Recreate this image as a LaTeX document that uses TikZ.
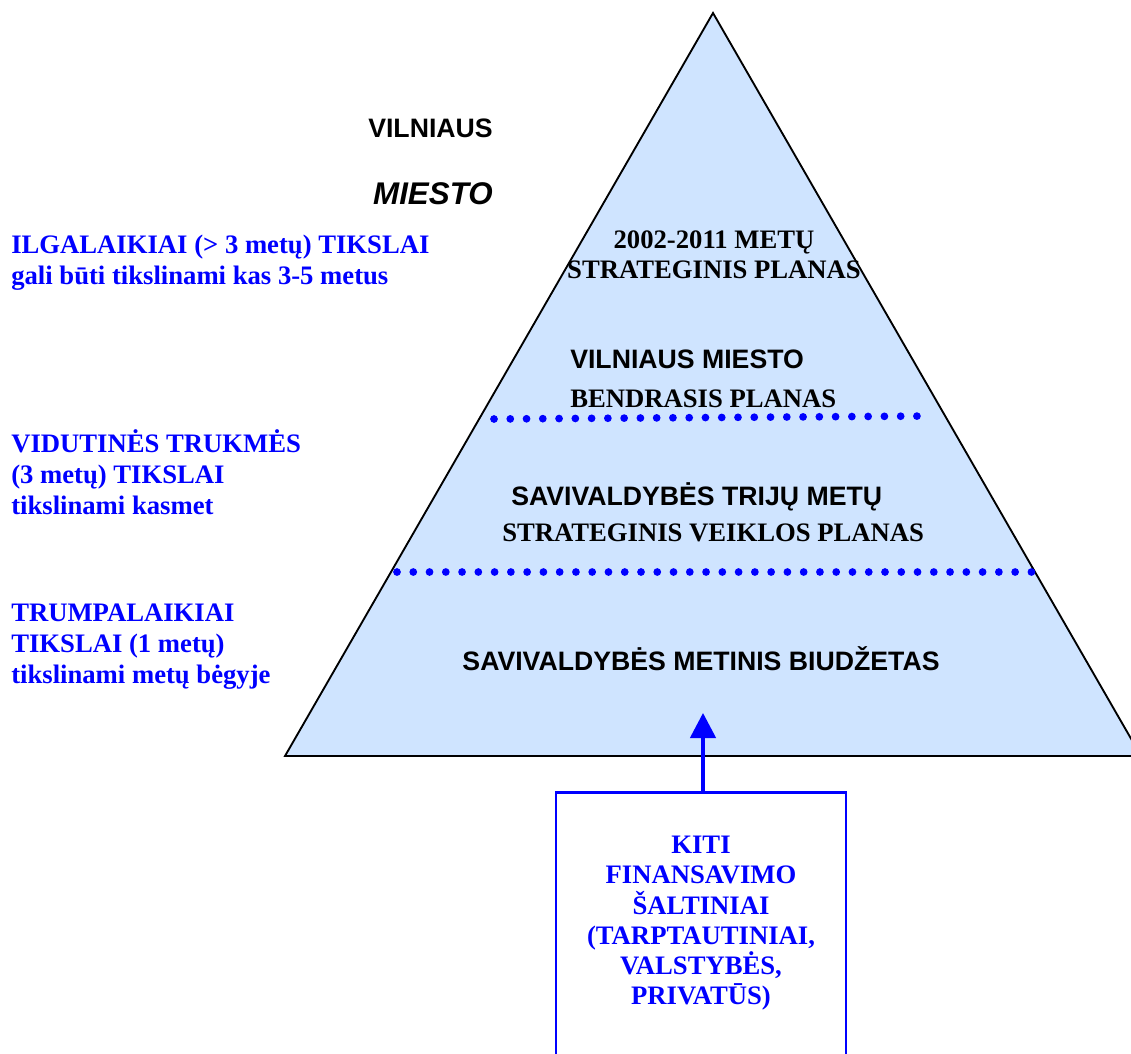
\documentclass[tikz,border=0pt]{standalone}
\usepackage{fontspec}
\setmainfont{Liberation Serif}
\newfontfamily\arialfont{Liberation Sans}
\usetikzlibrary{arrows.meta}
\definecolor{pyrfill}{RGB}{207,228,255}
\definecolor{goalblue}{RGB}{0,0,255}
\tikzset{
  goal/.style={anchor=base west,inner sep=0pt,align=left,text=goalblue,
               font=\fontsize{20}{23}\selectfont\bfseries},
  planT/.style={inner sep=0pt,font=\fontsize{20}{22.5}\selectfont\bfseries},
  planA/.style={inner sep=0pt,font=\arialfont\fontsize{20}{24}\selectfont\bfseries},
  pyramid/.style={fill=pyrfill,draw=black,line width=1.4pt},
  dotline/.style={goalblue,line width=5.8pt,line cap=round,dash pattern=on 0pt off #1},
  srcbox/.style={draw=goalblue,line width=2pt,minimum width=217.5pt,minimum height=212pt,
                 text depth=20pt,align=center,text=goalblue,inner sep=0pt,
                 font=\fontsize{20}{22.6}\selectfont\bfseries},
  uparrow/.style={goalblue,line width=2.6pt,-{Triangle[length=18.75pt,width=19pt]}},
}
\begin{document}
\begin{tikzpicture}[x=0.75pt,y=-0.75pt]
  \path[use as bounding box,fill=white] (0,0) rectangle (1131,1053);
  \clip (0,0) rectangle (1131,1053);

  % pyramid
  \coordinate (apex) at (713,13);
  \coordinate (bl) at (285,756);
  \coordinate (br) at (1141,756);
  \draw[pyramid] (apex) -- (bl) -- (br) -- cycle;

  % level separators
  \draw[dotline=12.2pt] (494,419) -- (933,416);
  \draw[dotline=12.2pt] (397,572) -- (1033,572);

  % title
  \node[planA,anchor=base east] (vil) at (493,137.7) {VILNIAUS};
  \node[planA,anchor=base east,font=\arialfont\fontsize{23.5}{26}\selectfont\bfseries\itshape]
    (mie) at (493,204) {MIESTO};

  % goals on the left (base = last line)
  \node[goal] (long) at (11,284)
    {ILGALAIKIAI (> 3 metų) TIKSLAI\\gali būti tikslinami kas 3-5 metus};
  \node[goal] (mid) at (11,514)
    {VIDUTINĖS TRUKMĖS\\(3 metų) TIKSLAI\\tikslinami kasmet};
  \node[goal] (short) at (11,683)
    {TRUMPALAIKIAI\\TIKSLAI (1 metų)\\tikslinami metų bėgyje};

  % plans in the pyramid
  \node[planT,anchor=base,align=center] (strat) at (714,278)
    {2002-2011 METŲ\\STRATEGINIS PLANAS};
  \node[planA,anchor=base west] (gen1) at (570,368) {VILNIAUS MIESTO};
  \node[planT,anchor=base west] (gen2) at (570,407.7) {BENDRASIS PLANAS};
  \node[planA,anchor=base west] (three1) at (511,505) {SAVIVALDYBĖS TRIJŲ METŲ};
  \node[planT,anchor=base west] (three2) at (502,541.7) {STRATEGINIS VEIKLOS PLANAS};
  \node[planA,anchor=base] (budget) at (701,670) {SAVIVALDYBĖS METINIS BIUDŽETAS};

  % other sources
  \node[srcbox,anchor=north] (src) at (701,791)
    {KITI\\FINANSAVIMO\\ŠALTINIAI\\(TARPTAUTINIAI,\\VALSTYBĖS,\\PRIVATŪS)};
  \coordinate (tip) at (703,713);
  \draw[uparrow] ([xshift=1.5pt]src.north) -- (tip);
\end{tikzpicture}
\end{document}
